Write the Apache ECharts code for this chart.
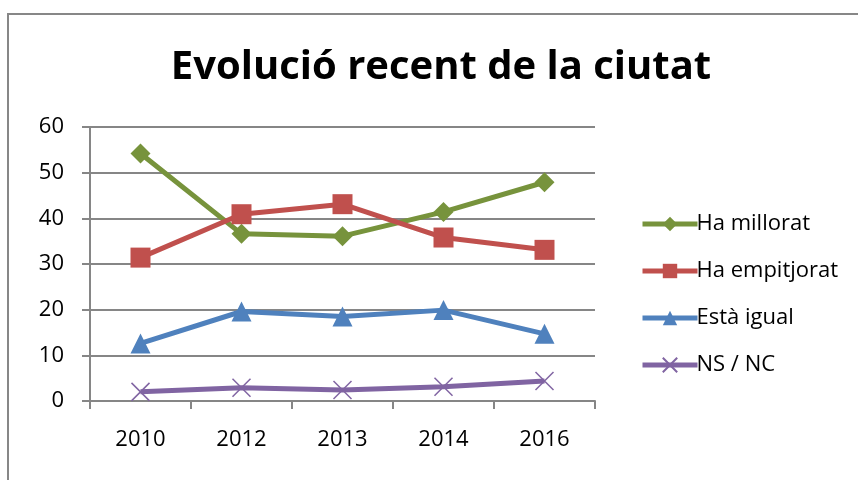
<!DOCTYPE html>
<html>
<head>
<meta charset="utf-8">
<script src="https://cdn.jsdelivr.net/npm/echarts@6/dist/echarts.min.js"></script>
<style>
  html, body { margin: 0; padding: 0; background: #fff; }
  #chart { width: 858px; height: 480px; }
</style>
</head>
<body>
<div id="chart"></div>
<script>
const years = ['2010', '2012', '2013', '2014', '2016'];
const millorat = [54.2, 36.6, 36.1, 41.4, 47.9];
const empitjorat = [31.4, 40.9, 43.1, 35.8, 33.1];
const igual = [12.6, 19.6, 18.5, 19.9, 14.7];
const nsnc = [2.0, 2.9, 2.4, 3.1, 4.4];
const yTicks = [0, 10, 20, 30, 40, 50, 60];

const fontName = "'Open Sans', 'Noto Sans', sans-serif";
const chart = echarts.init(document.getElementById('chart'));

// fa una línia amb marcador
function lineSeries(name, data, color, symbol, size, extra) {
  return Object.assign({
    name: name,
    type: 'line',
    data: data,
    symbol: symbol,
    symbolSize: size,
    color: color,
    lineStyle: { width: 5, color: color },
    itemStyle: { color: color },
    emphasis: { disabled: true },
    z: 3
  }, extra || {});
}

const option = {
  animation: false,
  graphic: [{
    type: 'rect',
    shape: { x: 8, y: 14, width: 880, height: 520 },
    style: { fill: 'none', stroke: '#878787', lineWidth: 2 },
    silent: true
  }],
  title: {
    text: 'Evolució recent de la ciutat',
    left: 436,
    top: 43,
    textAlign: 'center',
    textStyle: { fontFamily: fontName, fontWeight: 'bold', fontSize: 40, color: '#000' }
  },
  legend: {
    orient: 'vertical',
    left: 635,
    top: 208,
    itemWidth: 55,
    itemHeight: 18,
    itemGap: 25,
    lineStyle: { width: 5 },
    textStyle: { fontFamily: fontName, fontSize: 22, color: '#000', padding: [0, 0, 0, -6] },
    data: ['Ha millorat', 'Ha empitjorat', 'Està igual', 'NS / NC']
  },
  grid: { left: 90, right: 263, top: 127, bottom: 79 },
  xAxis: {
    type: 'category',
    data: years,
    boundaryGap: true,
    axisLine: { lineStyle: { color: '#868686', width: 2 } },
    axisTick: { show: true, length: 8, alignWithLabel: false, lineStyle: { color: '#868686', width: 2 } },
    axisLabel: { fontFamily: fontName, fontSize: 22, color: '#000', margin: 28 }
  },
  yAxis: {
    type: 'value',
    min: yTicks[0],
    max: yTicks[yTicks.length - 1],
    interval: 10,
    axisLine: { show: true, lineStyle: { color: '#868686', width: 2 } },
    axisTick: { show: true, length: 8, lineStyle: { color: '#868686', width: 2 } },
    splitLine: { lineStyle: { color: '#868686', width: 2 } },
    axisLabel: { fontFamily: fontName, fontSize: 22, color: '#000', margin: 26 }
  },
  series: [
    lineSeries('Ha millorat', millorat, '#77933C', 'diamond', 20),
    lineSeries('Ha empitjorat', empitjorat, '#C0504D', 'rect', 20),
    lineSeries('Està igual', igual, '#4F81BD', 'triangle', 20),
    lineSeries('NS / NC', nsnc, '#8064A2', 'path://M0,0L10,10M10,0L0,10', 18, {
      itemStyle: { color: 'none', borderColor: '#8064A2', borderWidth: 1.5 }
    })
  ]
};
chart.setOption(option);
</script>
</body>
</html>
